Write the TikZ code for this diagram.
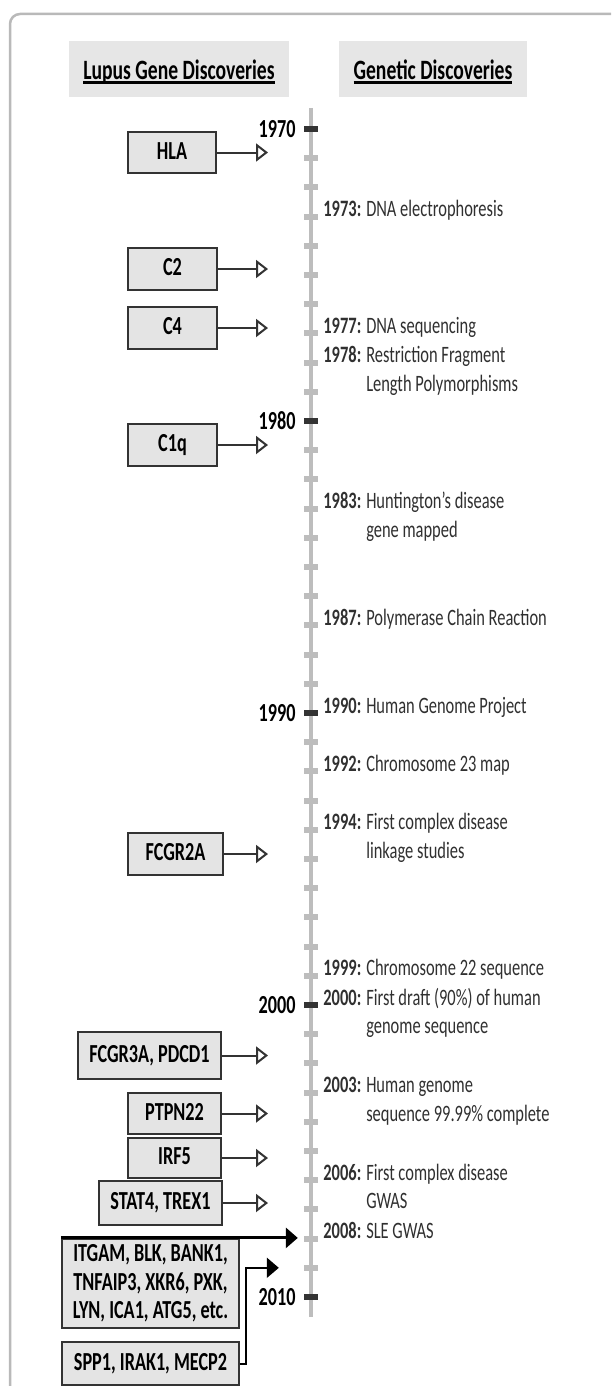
\documentclass[tikz,border=0pt]{standalone}
\usepackage{fontspec}
\setmainfont{Carlito}[FakeStretch=0.7]
\usetikzlibrary{arrows.meta,positioning}

\newcommand\hdline[1]{\setbox0=\hbox{#1}\rlap{\rule[-4pt]{\wd0}{2.5pt}}\box0}
\newcommand\twoline[1]{\begin{tabular}[t]{@{}l@{}}#1\end{tabular}}

\definecolor{boxgray}{HTML}{E4E4E4}
\definecolor{headgray}{HTML}{E6E6E6}
\definecolor{axisgray}{HTML}{BDBDBD}
\definecolor{tickdark}{HTML}{333333}
\definecolor{txtgray}{HTML}{303030}

\begin{document}
\begin{tikzpicture}[x=1pt,y=1pt,
  head/.style={fill=headgray,minimum width=#1,minimum height=56pt,inner sep=0pt,
    text height=24pt,text depth=2pt,font=\fontsize{28}{30}\selectfont\bfseries},
  gene/.style={draw=black!80,line width=2.2pt,fill=boxgray,inner sep=0pt,
    font=\fontsize{26}{28.5}\selectfont\bfseries},
  onegene/.style={gene,text height=17pt,text depth=4pt},
  minortick/.style={fill=axisgray,minimum width=14pt,minimum height=6pt,inner sep=0pt},
  majortick/.style={minortick,fill=tickdark},
  yearlbl/.style={inner sep=0pt,font=\fontsize{26}{28}\selectfont\bfseries},
  event/.style={anchor=base west,inner sep=0pt,text=txtgray,
    font=\fontsize{23.5}{28.5}\selectfont},
  genearrow/.style={draw=black!80,line width=2pt,-{Triangle[open,length=12pt,width=18pt]}},
  bigarrow/.style={draw=black,line width=3pt,-{Triangle[length=12pt,width=20pt]}}]
\useasboundingbox (0,0) rectangle (611,-1386);
\clip (0,0) rectangle (611,-1386);
% panel border, only left and top edges show
\draw[gray!55,line width=2.5pt,rounded corners=10pt] (10,-1420) -- (10,-14) -- (640,-14);

% headers
\node[head=220pt] (hlupus) at (179,-69) {\hdline{Lupus Gene Discoveries}};
\node[head=188pt] (hgenetic) at (433,-69) {\hdline{Genetic Discoveries}};

% time axis
\coordinate (axtop) at (311,-108);
\coordinate (axbot) at (311,-1317);
\draw[axisgray,line width=4pt] (axtop) -- (axbot);
\foreach \yr in {1970,...,2010}{
  \pgfmathsetmacro\ty{129+(\yr-1970)*29.2}
  \node[minortick] (t\yr) at (311,-\ty) {};
}
\foreach \yr in {1970,1980,...,2010}{
  \node[majortick] at (t\yr) {};
  \node[yearlbl,left=8pt of t\yr] (l\yr) {\yr};
}

% genetic discoveries
\node[event] (e1973) at ([xshift=5pt]t1973.east) {\textbf{1973:} DNA electrophoresis};
\node[event] (e1977) at ([xshift=5pt]t1977.east) {\textbf{1977:} DNA sequencing};
\node[event] (e1978) at ([xshift=5pt]t1978.east) {\textbf{1978:} \twoline{Restriction Fragment\\Length Polymorphisms}};
\node[event] (e1983) at ([xshift=5pt]t1983.east) {\textbf{1983:} \twoline{Huntington’s disease\\gene mapped}};
\node[event] (e1987) at ([xshift=5pt]t1987.east) {\textbf{1987:} Polymerase Chain Reaction};
\node[event] (e1990) at ([xshift=5pt]t1990.east) {\textbf{1990:} Human Genome Project};
\node[event] (e1992) at ([xshift=5pt]t1992.east) {\textbf{1992:} Chromosome 23 map};
\node[event] (e1994) at ([xshift=5pt]t1994.east) {\textbf{1994:} \twoline{First complex disease\\linkage studies}};
\node[event] (e1999) at ([xshift=5pt]t1999.east) {\textbf{1999:} Chromosome 22 sequence};
\node[event] (e2000) at ([xshift=5pt]t2000.east) {\textbf{2000:} \twoline{First draft (90\%) of human\\genome sequence}};
\node[event] (e2003) at ([xshift=5pt]t2003.east) {\textbf{2003:} \twoline{Human genome\\sequence 99.99\% complete}};
\node[event] (e2006) at ([xshift=5pt]t2006.east) {\textbf{2006:} \twoline{First complex disease\\GWAS}};
\node[event] (e2008) at ([xshift=5pt]t2008.east) {\textbf{2008:} SLE GWAS};

% lupus genes
\coordinate (tip) at (268,0);
\node[onegene,minimum width=88pt,minimum height=41pt] (hla) at (172,-152.5) {HLA};
\node[onegene,minimum width=89pt,minimum height=42pt] (c2) at (172.5,-269) {C2};
\node[onegene,minimum width=89pt,minimum height=42pt] (c4) at (172.5,-328) {C4};
\node[onegene,minimum width=89pt,minimum height=42pt] (c1q) at (172.5,-445) {C1q};
\node[onegene,minimum width=95pt,minimum height=42pt] (fcgr2a) at (175.5,-854) {FCGR2A};
\node[onegene,minimum width=143pt,minimum height=47pt] (fcgr3a) at (149.5,-1055.5) {FCGR3A, PDCD1};
\node[onegene,minimum width=93pt,minimum height=41pt] (ptpn22) at (174.5,-1113.5) {PTPN22};
\node[onegene,minimum width=93pt,minimum height=40pt] (irf5) at (174.5,-1158) {IRF5};
\node[onegene,minimum width=123pt,minimum height=44pt] (stat4) at (160.5,-1203) {STAT4, TREX1};
\node[gene,align=center,minimum width=177pt,minimum height=89pt] (itgam) at (150.5,-1283.5)
  {ITGAM, BLK, BANK1,\\TNFAIP3, XKR6, PXK,\\LYN, ICA1, ATG5, etc.};
\node[onegene,minimum width=177pt,minimum height=43pt] (spp1) at (150.5,-1363.5) {SPP1, IRAK1, MECP2};

\foreach \g in {hla,c2,c4,c1q,fcgr2a,fcgr3a,ptpn22,irf5,stat4}
  \draw[genearrow] (\g.east) -- (\g.east -| tip);
\coordinate (tip2008) at ([xshift=-6pt]t2008.west);
\draw[bigarrow] (itgam.north west) -- (itgam.north west -| tip2008);
\draw[bigarrow,line width=2pt] (spp1.east) -- ++(6,0) |- ([xshift=-25pt]t2009.west);
\end{tikzpicture}
\end{document}
